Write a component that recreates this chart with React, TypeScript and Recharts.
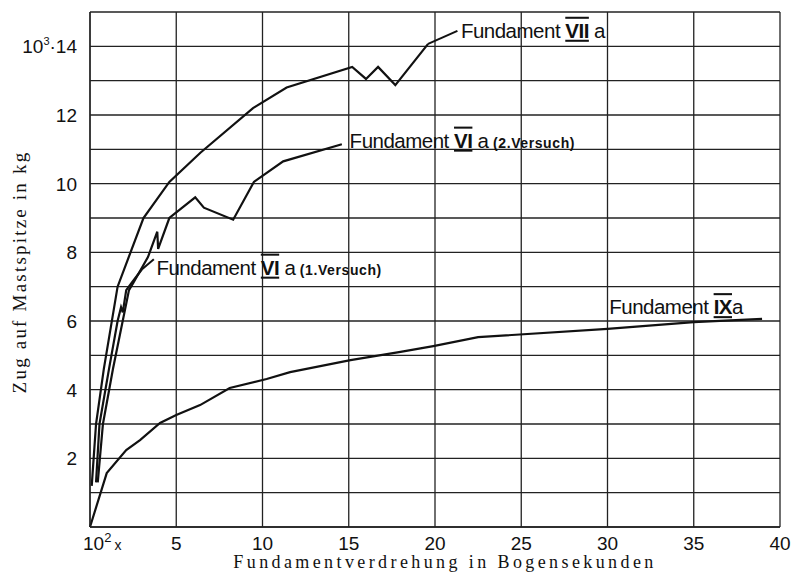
import React from "react";
import {
  LineChart,
  Line,
  XAxis,
  YAxis,
  CartesianGrid,
  ReferenceDot,
  ReferenceLine,
} from "recharts";

// x: Fundamentverdrehung (10^2 Bogensekunden), y: Zug (10^3 kg)
const fundamentVIIa = [
  { x: 0.1, y: 1.2 }, { x: 0.35, y: 3.0 }, { x: 0.8, y: 4.6 }, { x: 1.6, y: 7.0 },
  { x: 3.1, y: 9.0 }, { x: 4.6, y: 10.05 }, { x: 6.4, y: 10.9 }, { x: 9.45, y: 12.2 },
  { x: 11.4, y: 12.8 }, { x: 15.2, y: 13.4 }, { x: 16.0, y: 13.05 }, { x: 16.7, y: 13.4 },
  { x: 17.7, y: 12.87 }, { x: 19.6, y: 14.07 },
];

const fundamentVIa1 = [
  { x: 0.35, y: 1.3 }, { x: 0.55, y: 3.0 }, { x: 1.1, y: 4.6 }, { x: 1.6, y: 6.0 },
  { x: 1.8, y: 6.4 }, { x: 1.9, y: 6.25 }, { x: 2.1, y: 6.9 }, { x: 2.4, y: 7.1 },
  { x: 3.0, y: 7.5 },
];

const fundamentVIa2 = [
  { x: 0.45, y: 1.3 }, { x: 0.75, y: 3.0 }, { x: 1.33, y: 4.6 }, { x: 2.26, y: 6.9 },
  { x: 2.5, y: 7.1 }, { x: 3.36, y: 7.86 }, { x: 3.9, y: 8.6 }, { x: 3.95, y: 8.1 },
  { x: 4.6, y: 9.0 }, { x: 6.1, y: 9.6 }, { x: 6.6, y: 9.3 }, { x: 8.3, y: 8.95 },
  { x: 9.5, y: 10.05 }, { x: 11.2, y: 10.65 }, { x: 14.6, y: 11.15 },
];

const fundamentIXa = [
  { x: 0, y: 0 }, { x: 0.97, y: 1.57 }, { x: 2.1, y: 2.24 }, { x: 2.9, y: 2.53 },
  { x: 4.06, y: 3.03 }, { x: 5.0, y: 3.26 }, { x: 6.38, y: 3.55 }, { x: 8.1, y: 4.05 },
  { x: 10.24, y: 4.31 }, { x: 11.6, y: 4.51 }, { x: 15.1, y: 4.86 }, { x: 18.0, y: 5.1 },
  { x: 19.9, y: 5.27 }, { x: 22.5, y: 5.53 }, { x: 30.0, y: 5.77 }, { x: 35.0, y: 5.97 },
  { x: 38.96, y: 6.06 },
];

const xTicks = [0, 5, 10, 15, 20, 25, 30, 35, 40];
const yTicks = [0, 1, 2, 3, 4, 5, 6, 7, 8, 9, 10, 11, 12, 13, 14, 15];
const yLabelled = [2, 4, 6, 8, 10, 12, 14];

const xTitle = "Fundamentverdrehung in Bogensekunden";
const yTitle = "Zug auf Mastspitze in kg";

// label anchors (data coords) and their text parts
const seriesLabels = [
  { x: 21.5, y: 14.25, pre: "Fundament ", num: "VII", post: " a", small: "" },
  { x: 15.05, y: 11.05, pre: "Fundament ", num: "VI", post: " a", small: " (2.Versuch)" },
  { x: 3.85, y: 7.35, pre: "Fundament ", num: "VI", post: " a", small: " (1.Versuch)" },
  { x: 30.1, y: 6.2, pre: "Fundament ", num: "IX", post: "a", small: "" },
];

const leaders = [
  { x1: 19.6, y1: 14.07, x2: 21.3, y2: 14.45 },
  { x1: 3.0, y1: 7.5, x2: 3.7, y2: 7.8 },
];

const SANS = "'Liberation Sans', Arial, sans-serif";
const SERIF = "'Liberation Serif', 'DejaVu Serif', serif";
const INK = "#111";

const YTick = (props: any) => {
  const { x, y, payload } = props;
  const v = payload.value;
  if (!yLabelled.includes(v)) return null;
  if (v === 14) {
    return (
      <text x={x - 5} y={y + 7} textAnchor="end" fontFamily={SANS} fontSize={19} fill={INK}>
        10
        <tspan dy={-8} fontSize={11}>3</tspan>
        <tspan dy={8}>·14</tspan>
      </text>
    );
  }
  return (
    <text x={x - 5} y={y + 7} textAnchor="end" fontFamily={SANS} fontSize={19} fill={INK}>
      {v}
    </text>
  );
};

const XTick = (props: any) => {
  const { x, y, payload } = props;
  const v = payload.value;
  if (v === 0) {
    return (
      <text x={x - 7} y={y + 15} textAnchor="start" fontFamily={SANS} fontSize={19} fill={INK}>
        10
        <tspan dy={-8} fontSize={13}>2</tspan>
        <tspan dy={8} dx={3} fontSize={14}>x</tspan>
      </text>
    );
  }
  return (
    <text x={x} y={y + 15} textAnchor="middle" fontFamily={SANS} fontSize={19} fill={INK}>
      {v}
    </text>
  );
};

const makeLabelShape = (l: any) => (p: any) => (
  <text x={p.cx} y={p.cy} fontFamily={SANS} fontSize={20.5} fill={INK} letterSpacing={-0.5}>
    {l.pre}
    <tspan style={{ textDecoration: "underline overline" }} fontWeight="bold">{l.num}</tspan>
    {l.post}
    {l.small ? (
      <tspan fontSize={14} fontWeight="bold" letterSpacing={0.6}>{l.small}</tspan>
    ) : null}
  </text>
);

export default function App() {
  return (
    <div style={{ position: "absolute", left: 0, top: 0, background: "#fff" }}>
      <LineChart
        width={791}
        height={574}
        margin={{ top: 12, right: 11, bottom: 0, left: 0 }}
      >
        <CartesianGrid stroke="#222" strokeWidth={1.3} />
        <XAxis
          dataKey="x"
          type="number"
          domain={[0, 40]}
          ticks={xTicks}
          interval={0}
          height={47}
          tickLine={false}
          axisLine={{ stroke: "#222", strokeWidth: 1.3 }}
          tick={<XTick />}
          label={{
            content: () => (
              <text
                x={445}
                y={568}
                textAnchor="middle"
                fontFamily={SERIF}
                fontSize={18}
                letterSpacing={3.4}
                fill={INK}
              >
                {xTitle}
              </text>
            ),
          }}
        />
        <YAxis
          dataKey="y"
          type="number"
          domain={[0, 15]}
          ticks={yTicks}
          interval={0}
          width={90}
          tickLine={false}
          axisLine={{ stroke: "#222", strokeWidth: 1.3 }}
          tick={<YTick />}
          label={{
            content: () => {
              const cx = 22;
              const cy = 272;
              return (
                <text
                  x={cx}
                  y={cy}
                  transform={`rotate(-90 ${cx} ${cy})`}
                  textAnchor="middle"
                  dominantBaseline="middle"
                  fontFamily={SERIF}
                  fontSize={19}
                  letterSpacing={2.2}
                  fill={INK}
                >
                  {yTitle}
                </text>
              );
            },
          }}
        />
        <Line data={fundamentIXa} dataKey="y" stroke={INK} strokeWidth={2.2} dot={false} isAnimationActive={false} />
        <Line data={fundamentVIa2} dataKey="y" stroke={INK} strokeWidth={2.2} dot={false} isAnimationActive={false} />
        <Line data={fundamentVIa1} dataKey="y" stroke={INK} strokeWidth={2.2} dot={false} isAnimationActive={false} />
        <Line data={fundamentVIIa} dataKey="y" stroke={INK} strokeWidth={2.2} dot={false} isAnimationActive={false} />
        {leaders.map((s, i) => (
          <ReferenceLine
            key={"ld" + i}
            segment={[{ x: s.x1, y: s.y1 }, { x: s.x2, y: s.y2 }]}
            stroke={INK}
            strokeWidth={2}
          />
        ))}
        {seriesLabels.map((l, i) => (
          <ReferenceDot key={"lb" + i} x={l.x} y={l.y} r={0} shape={makeLabelShape(l)} />
        ))}
      </LineChart>
    </div>
  );
}
